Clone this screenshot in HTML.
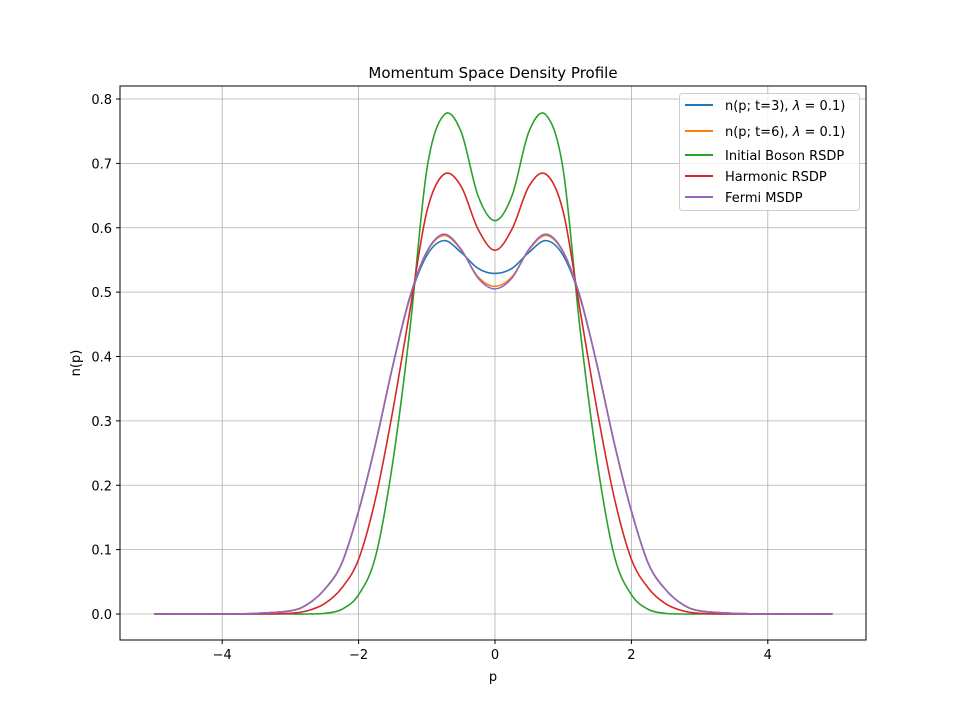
<!DOCTYPE html>
<html><head><meta charset="utf-8"><style>
body{margin:0;background:#fff}
svg{display:block;font-family:"DejaVu Sans","Liberation Sans",sans-serif}
</style></head><body>
<svg id="chart" width="963" height="719">
<rect width="963" height="719" fill="#fff"/>
<g id="grid"></g>
<g id="series"></g>
<rect x="120" y="86" width="746" height="554" fill="none" stroke="#000" stroke-width="1"/>
<g id="ticks"></g>
<text x="493" y="78" text-anchor="middle" font-size="15">Momentum Space Density Profile</text>
<text x="493" y="681" text-anchor="middle" font-size="13">p</text>
<text x="80" y="363" text-anchor="middle" font-size="13" transform="rotate(-90 80 363)">n(p)</text>
<g>
<rect x="679.5" y="93.5" width="180" height="117" rx="3" fill="#fff" fill-opacity="0.8" stroke="#ccc"/>
<g font-size="13">
<line x1="685" x2="713" y1="105" y2="105" stroke="#1f77b4" stroke-width="2"/>
<text x="725" y="110">n(p; t=3),  <tspan font-style="italic">λ</tspan> = 0.1)</text>
<line x1="685" x2="713" y1="131" y2="131" stroke="#ff7f0e" stroke-width="2"/>
<text x="725" y="136">n(p; t=6),  <tspan font-style="italic">λ</tspan> = 0.1)</text>
<line x1="685" x2="713" y1="155" y2="155" stroke="#2ca02c" stroke-width="2"/>
<text x="725" y="160">Initial Boson RSDP</text>
<line x1="685" x2="713" y1="176" y2="176" stroke="#d62728" stroke-width="2"/>
<text x="725" y="181">Harmonic RSDP</text>
<line x1="685" x2="713" y1="197" y2="197" stroke="#9467bd" stroke-width="2"/>
<text x="725" y="202">Fermi MSDP</text>
</g></g>
</svg>
<script>
const pVals = [0,0.25,0.5,0.75,1,1.25,1.5,1.75,2,2.25,2.5,2.75,3,3.5,4,5];
const blueVals   = [0.529,0.537,0.562,0.580,0.557,0.49,0.385,0.265,0.16,0.078,0.038,0.015,0.005,0.001,0,0];
const orangeVals = [0.509,0.524,0.566,0.588,0.562,0.492,0.385,0.265,0.16,0.078,0.038,0.015,0.005,0.001,0,0];
const greenVals  = [0.611,0.650,0.750,0.775,0.69,0.44,0.235,0.09,0.03,0.007,0.001,0,0,0,0,0];
const redVals    = [0.565,0.598,0.665,0.683,0.625,0.47,0.315,0.18,0.085,0.04,0.016,0.005,0.001,0,0,0];
const purpleVals = [0.505,0.522,0.567,0.590,0.563,0.492,0.385,0.265,0.16,0.078,0.038,0.015,0.005,0.001,0,0];
const xTicks = [-4,-2,0,2,4];
const yTicks = [0,0.1,0.2,0.3,0.4,0.5,0.6,0.7,0.8];
const NS="http://www.w3.org/2000/svg";
const X = p => 495 + p*68.2;
const Y = v => 614 - v*643.75;
const grid=document.getElementById('grid'), ticks=document.getElementById('ticks'), ser=document.getElementById('series');
function mk(tag,attrs,parent){const e=document.createElementNS(NS,tag);for(const k in attrs)e.setAttribute(k,attrs[k]);parent.appendChild(e);return e;}
xTicks.forEach(t=>{
  const g=mk('line',{x1:X(t),x2:X(t),y1:86,y2:640,stroke:'#b0b0b0','stroke-width':0.8},grid);
  
  
  const tk=mk('line',{x1:X(t),x2:X(t),y1:640,y2:644,stroke:'#000'},ticks);
  
  
  const tx=mk('text',{x:X(t),y:659,'text-anchor':'middle','font-size':13},ticks);
  tx.textContent=(t<0?'\u2212'+(-t):t);
  
  
});
yTicks.forEach(t=>{
  const g=mk('line',{x1:120,x2:866,y1:Y(t),y2:Y(t),stroke:'#b0b0b0','stroke-width':0.8},grid);
  
  
  const tk=mk('line',{x1:116,x2:120,y1:Y(t),y2:Y(t),stroke:'#000'},ticks);
  
  
  const tx=mk('text',{x:112,y:Y(t)+5,'text-anchor':'end','font-size':13},ticks);
  tx.textContent=t.toFixed(1);
  
  
});
function pathFor(vals){
  const pts=[];
  for(let i=pVals.length-1;i>0;i--) pts.push([-pVals[i],vals[i]]);
  for(let i=0;i<pVals.length;i++) pts.push([pVals[i]===5?4.95:pVals[i],vals[i]]);
  const P=pts.map(q=>[X(q[0]),Y(q[1])]);
  let d='M'+P[0][0]+','+P[0][1];
  for(let i=0;i<P.length-1;i++){
    const p0=P[Math.max(i-1,0)],p1=P[i],p2=P[i+1],p3=P[Math.min(i+2,P.length-1)];
    const c1=[p1[0]+(p2[0]-p0[0])/6,p1[1]+(p2[1]-p0[1])/6];
    const c2=[p2[0]-(p3[0]-p1[0])/6,p2[1]-(p3[1]-p1[1])/6];
    d+=' C'+c1+' '+c2+' '+p2;
  }
  return d;
}
[['series-t3',blueVals,'#1f77b4'],['series-t6',orangeVals,'#ff7f0e'],['series-boson',greenVals,'#2ca02c'],['series-harmonic',redVals,'#d62728'],['series-fermi',purpleVals,'#9467bd']].forEach(s=>{
  const e=mk('path',{d:pathFor(s[1]),fill:'none',stroke:s[2],'stroke-width':1.6},ser);
  
  
});
</script>
</body></html>
